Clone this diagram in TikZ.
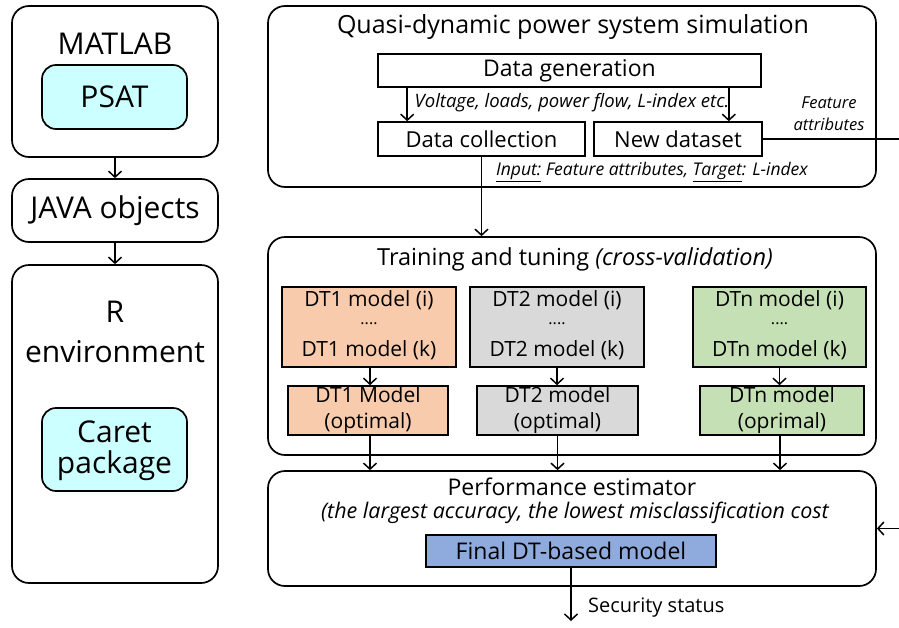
\documentclass[tikz,border=0pt]{standalone}
\usepackage{fontspec}
\setmainfont{Open Sans}
\usetikzlibrary{arrows.meta}
\definecolor{cyanfill}{RGB}{204,255,255}
\definecolor{peach}{RGB}{248,203,173}
\definecolor{greyfill}{RGB}{217,217,217}
\definecolor{greenfill}{RGB}{197,224,180}
\definecolor{bluefill}{RGB}{143,170,220}
\newcommand{\fs}[1]{\fontsize{#1}{#1}\selectfont}
\begin{document}
\begin{tikzpicture}[x=1pt,y=-1pt,
  bigbox/.style={draw, line width=1.7pt, rounded corners=17pt, inner sep=0pt},
  innerround/.style={draw, line width=1.7pt, rounded corners=14pt, fill=cyanfill, inner sep=0pt, align=center},
  rectbox/.style={draw, line width=1.6pt, inner sep=0pt, align=center},
  arr/.style={-{Straight Barb[length=6pt,width=13pt]}, line width=1.5pt},
  lab/.style={inner sep=0pt, align=center}]
\useasboundingbox (0,0) rectangle (899,627);
% left column
\node[bigbox, minimum width=206pt, minimum height=151pt] (matlab) at (115,81.5) {};
\node[lab, font=\fs{30}] (matlabt) at (115,44) {MATLAB};
\node[innerround, minimum width=145pt, minimum height=64pt, font=\fs{30}] (psat) at (114.5,97) {PSAT};
\node[bigbox, minimum width=206pt, minimum height=63pt, font=\fs{30}] (java) at (115,210.5) {JAVA objects};
\node[bigbox, minimum width=206pt, minimum height=318pt] (renv) at (115,424) {};
\node[lab, font=\fs{30}] (rt) at (115,312) {R};
\node[lab, font=\fs{30}] (envt) at (115,352) {environment};
\node[innerround, minimum width=145pt, minimum height=83pt] (caret) at (114.5,449.5) {};
\node[lab, font=\fs{30}] (caret1) at (114.5,432) {Caret};
\node[lab, font=\fs{30}] (caret2) at (114.5,466) {package};
\draw[arr] (matlab.south) -- (java.north);
\draw[arr] (java.south) -- (renv.north);
% quasi-dynamic
\node[bigbox, minimum width=608pt, minimum height=181pt] (quasi) at (572,96.5) {};
\node[lab, font=\fs{25}] (quasit) at (573,27) {Quasi-dynamic power system simulation};
\node[rectbox, minimum width=383pt, minimum height=33pt, font=\fs{23}] (datagen) at (569.5,70.5) {Data generation};
\node[rectbox, minimum width=207pt, minimum height=34pt, font=\fs{22}] (datacoll) at (481.5,139) {Data collection};
\node[rectbox, minimum width=168pt, minimum height=34pt, font=\fs{22}] (newds) at (678,139) {New dataset};
\draw[arr] ([xshift=30pt]datagen.south west) -- ([xshift=30pt]datacoll.north west);
\draw[arr] ([xshift=-33pt]datagen.south east) -- ([xshift=-34pt]newds.north east);
\node[lab, font=\fs{18.5}\itshape] (voltl) at (572,103) {Voltage, loads, power flow, L-index etc.};
\node[lab, font=\fs{16.5}\itshape] (feat1) at (829,103) {Feature};
\node[lab, font=\fs{16.5}\itshape] (feat2) at (829,124) {attributes};
\node[lab, font=\fs{17.5}\itshape] (inputl) at (652,172) {\underline{Input:} Feature attributes, \underline{Target}: L-index};
% training
\node[bigbox, minimum width=608pt, minimum height=218pt] (train) at (572,346) {};
\node[lab, font=\fs{23.5}] (traint) at (575,259) {Training and tuning \textit{(cross-validation)}};
\draw[arr] (datacoll.south) -- (datacoll.south |- train.north);
\node[rectbox, fill=peach, minimum width=174pt, minimum height=80pt] (g1) at (369,327) {};
\node[rectbox, fill=greyfill, minimum width=174pt, minimum height=80pt] (g2) at (557,327) {};
\node[rectbox, fill=greenfill, minimum width=173pt, minimum height=80pt] (g3) at (779.5,327) {};
\foreach \n/\x/\t in {a/369/DT1, b/557/DT2, c/779.5/DTn}{
  \node[lab, font=\fs{21}] (\n i) at (\x,300) {\t\ model (i)};
  \node[lab, font=\fs{16}] (\n d) at (\x,324) {....};
  \node[lab, font=\fs{21}] (\n k) at (\x,350) {\t\ model (k)};
}
\node[rectbox, fill=peach, minimum width=160pt, minimum height=49pt, font=\fs{21}] (o1) at (368,410.5) {DT1 Model\\[5pt](optimal)};
\node[rectbox, fill=greyfill, minimum width=161pt, minimum height=49pt, font=\fs{21}] (o2) at (557.5,410.5) {DT2 model\\[5pt](optimal)};
\node[rectbox, fill=greenfill, minimum width=164pt, minimum height=49pt, font=\fs{21}] (o3) at (782,410.5) {DTn model\\[5pt](oprimal)};
\draw[arr] ([xshift=1pt]g1.south) -- ([xshift=1pt]g1.south |- o1.north);
\draw[arr] (g2.south) -- (g2.south |- o2.north);
\draw[arr] (g3.south) -- (g3.south |- o3.north);
% performance
\node[bigbox, minimum width=608pt, minimum height=115pt] (perf) at (572,528.5) {};
\node[lab, font=\fs{23}] (perft) at (572,487) {Performance estimator};
\node[lab, font=\fs{21.5}\itshape] (perfl) at (575,513) {(the largest accuracy, the lowest misclassification cost};
\node[rectbox, fill=bluefill, minimum width=290pt, minimum height=32pt, font=\fs{23}] (final) at (571,551) {Final DT-based model};
\draw[arr] ([xshift=2pt]o1.south) -- ([xshift=2pt]o1.south |- perf.north);
\draw[arr] (o2.south) -- (o2.south |- perf.north);
\draw[arr] ([xshift=-2pt]o3.south) -- ([xshift=-2pt]o3.south |- perf.north);
\coordinate (secend) at (571,621);
\draw[arr] (final.south) -- (secend);
\node[lab, font=\fs{20}, anchor=west] (sect) at (588,608) {Security status};
% feedback
\coordinate (fbr) at (903,139);
\draw[arr] (newds.east) -- (fbr) |- (perf.east);
\end{tikzpicture}
\end{document}
